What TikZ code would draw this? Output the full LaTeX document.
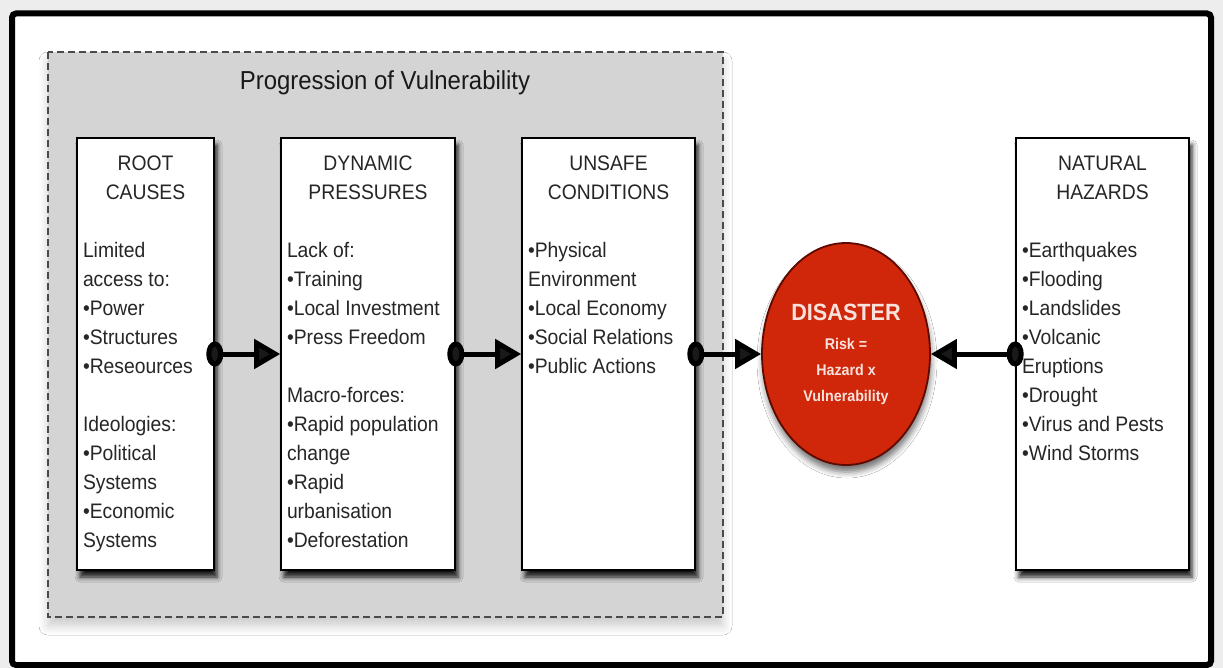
\documentclass[tikz,border=0pt]{standalone}
\usepackage{fontspec}
\setmainfont[FakeStretch=0.92]{Liberation Sans}
\usetikzlibrary{arrows.meta,shapes.geometric,shadows.blur}

\definecolor{pagegray}{HTML}{EDEDED}
\definecolor{regiongray}{HTML}{D4D4D4}
\definecolor{dashgray}{HTML}{4A4A4A}
\definecolor{disasterred}{HTML}{D0260A}
\definecolor{disasterrim}{HTML}{5E0A00}
\definecolor{disastertext}{HTML}{F8E2DC}

\tikzset{
  stagebox/.style={draw=black, line width=1.6pt, fill=white, inner xsep=6pt, inner ysep=12pt,
    font=\fontsize{21}{29}\selectfont, text=black!85,
    blur shadow={shadow xshift=3pt, shadow yshift=-7pt, shadow blur radius=5pt, shadow opacity=90}},
  disasternode/.style={ellipse, draw=disasterrim, line width=1.8pt, fill=disasterred, inner sep=0pt,
    minimum width=168pt, minimum height=222pt, text=disastertext, align=center,
    font=\fontsize{15.5}{26}\selectfont\bfseries,
    blur shadow={shadow xshift=1pt, shadow yshift=-7pt, shadow blur radius=6pt, shadow opacity=55}},
  linkarrow/.style={line width=5pt, {Circle[length=17pt,width=25pt]}-{Triangle[length=26pt,width=29pt]},
    shorten <=-8.5pt},
}
% header centred on top, list below
\newcommand{\stagetext}[3]{\parbox[c][408pt][t]{#1}{\centering\strut #2\par\vspace{29pt}\raggedright #3}}

\begin{document}
\begin{tikzpicture}[x=1pt,y=-1pt]
\useasboundingbox (0,0) rectangle (1223,668);
\fill[pagegray] (0,0) rectangle (1223,668);
\draw[line width=6pt, fill=white, rounded corners=4pt] (12,13.5) rectangle (1211,665);

% progression of vulnerability
\draw[dashgray, fill=regiongray, line width=2pt, dash pattern=on 7pt off 4pt,
  blur shadow={shadow xshift=0pt, shadow yshift=-9pt, shadow blur radius=9pt, shadow opacity=20}]
  (48,52) rectangle (723,617);
\node[font=\fontsize{26}{30}\selectfont, text=black!90, anchor=base] (title) at (385,90) {Progression of Vulnerability};

\node[stagebox] (root) at (145.5,354) {\stagetext{125pt}{ROOT\\CAUSES}{Limited\\access to:\\•Power\\•Structures\\•Reseources\par\vspace{29pt}Ideologies:\\•Political\\Systems\\•Economic\\Systems}};
\node[stagebox] (dyn) at (368,354) {\stagetext{162pt}{DYNAMIC\\PRESSURES}{Lack of:\\•Training\\•Local Investment\\•Press Freedom\par\vspace{29pt}Macro-forces:\\•Rapid population\\change\\•Rapid\\urbanisation\\•Deforestation}};
\node[stagebox] (unsafe) at (608.5,354) {\stagetext{161pt}{UNSAFE\\CONDITIONS}{•Physical\\Environment\\•Local Economy\\•Social Relations\\•Public Actions}};
\node[stagebox] (natural) at (1102.5,354) {\stagetext{161pt}{NATURAL\\HAZARDS}{•Earthquakes\\•Flooding\\•Landslides\\•Volcanic\\Eruptions\\•Drought\\•Virus and Pests\\•Wind Storms}};

\node[disasternode] (disaster) at (846,354) {{\fontsize{23.5}{26}\selectfont DISASTER}\\[3pt]Risk =\\Hazard x\\Vulnerability};

\draw[linkarrow] (root.east) -- (dyn.west);
\draw[linkarrow] (dyn.east) -- (unsafe.west);
\draw[linkarrow] (unsafe.east) -- (disaster.west);
\draw[linkarrow] (natural.west) -- (disaster.east);
\end{tikzpicture}
\end{document}
